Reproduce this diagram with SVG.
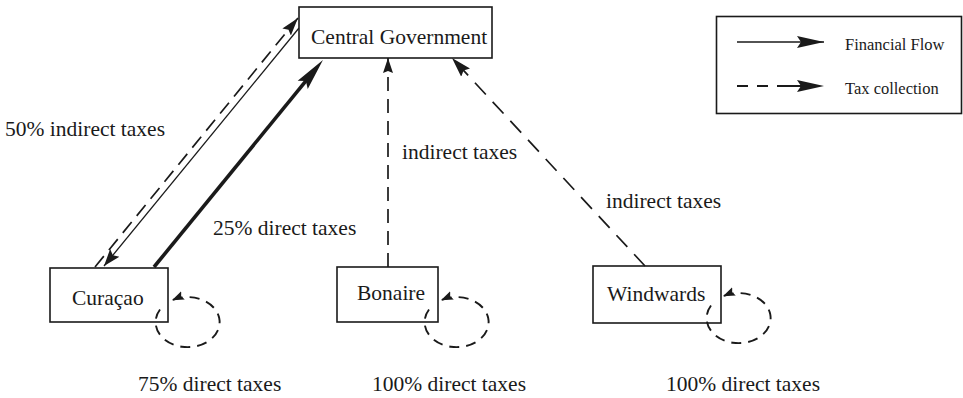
<svg xmlns="http://www.w3.org/2000/svg" width="963" height="398" viewBox="0 0 963 398">
  <style>
    .box { fill: #fff; stroke: #1a1a1a; stroke-width: 1.6; }
    .lbl { font-family: "Liberation Serif", "Times New Roman", serif; font-size: 21.5px; fill: #1a1a1a; }
    .leg { font-family: "Liberation Serif", "Times New Roman", serif; font-size: 16.5px; fill: #1a1a1a; }
    .flow { fill: none; stroke: #1a1a1a; stroke-width: 1.3; }
    .flow-thick { fill: none; stroke: #1a1a1a; stroke-width: 3.6; }
    .tax { fill: none; stroke: #1a1a1a; stroke-width: 1.7; stroke-dasharray: 14 8; }
    .loop { fill: none; stroke: #1a1a1a; stroke-width: 1.9; stroke-dasharray: 10 7; }
    .head { fill: #1a1a1a; stroke: none; }
  </style>
  <defs>
    <marker id="ahThick" viewBox="0 -10 40 20" markerWidth="40" markerHeight="20" refX="18" refY="0" orient="auto" markerUnits="userSpaceOnUse">
      <path class="head" d="M0,-6.5 L32,0 L0,6.5 L5,0 z"/>
    </marker>
    <marker id="ahThin" viewBox="0 -10 20 20" markerWidth="20" markerHeight="20" refX="17" refY="0" orient="auto" markerUnits="userSpaceOnUse">
      <path class="head" d="M0,-6 L17,0 L0,6 L3,0 z"/>
    </marker>
    <marker id="ahTax" viewBox="0 -10 22 20" markerWidth="22" markerHeight="20" refX="18" refY="0" orient="auto" markerUnits="userSpaceOnUse">
      <path class="head" d="M0,-5.5 L18,0 L0,5.5 L3,0 z"/>
    </marker>
    <marker id="ahTaxShort" viewBox="0 -10 20 20" markerWidth="20" markerHeight="20" refX="15" refY="0" orient="auto" markerUnits="userSpaceOnUse">
      <path class="head" d="M0,-5 L15,0 L0,5 L2,0 z"/>
    </marker>
    <marker id="ahTaxLong" viewBox="0 -10 24 20" markerWidth="24" markerHeight="20" refX="20" refY="0" orient="auto" markerUnits="userSpaceOnUse">
      <path class="head" d="M0,-6 L20,0 L0,6 L3,0 z"/>
    </marker>
    <marker id="ahLoop" viewBox="0 -10 14 20" markerWidth="14" markerHeight="20" refX="12" refY="0" orient="auto" markerUnits="userSpaceOnUse">
      <path class="head" d="M0,-4.5 L12,0 L0,4.5 L2,0 z"/>
    </marker>
    <marker id="ahLegend" viewBox="0 -10 30 20" markerWidth="30" markerHeight="20" refX="27" refY="0" orient="auto" markerUnits="userSpaceOnUse">
      <path class="head" d="M0,-6 L27,0 L0,6 L4,0 z"/>
    </marker>
  </defs>

  <!-- flows between the islands and the central government -->
  <g id="connectors">
    <!-- Curaçao: 50% indirect taxes collected upward -->
    <line class="tax" x1="95" y1="267" x2="298" y2="18" marker-end="url(#ahTax)"/>
    <!-- transfer back down to Curaçao -->
    <line class="flow" x1="299" y1="28" x2="104" y2="266" marker-end="url(#ahThin)"/>
    <!-- Curaçao: 25% direct taxes -->
    <line class="flow-thick" x1="154" y1="267" x2="314.1" y2="70.9" marker-end="url(#ahThick)"/>
    <!-- Bonaire: indirect taxes -->
    <line class="tax" x1="388" y1="267" x2="388" y2="58" marker-end="url(#ahTaxShort)"/>
    <!-- Windwards: indirect taxes -->
    <line class="tax" x1="645" y1="266" x2="452" y2="58" marker-end="url(#ahTaxLong)" style="stroke-dasharray: 16 10"/>
    <!-- direct taxes kept locally (self loops) -->
    <path class="loop" d="M160,309.5 A32,25 0 1 0 172,300.3" marker-end="url(#ahLoop)"/>
    <path class="loop" d="M429,309.5 A32,25 0 1 0 441,300.3" marker-end="url(#ahLoop)"/>
    <path class="loop" d="M711,305.5 A32,25 0 1 0 723,296.3" marker-end="url(#ahLoop)"/>
  </g>

  <g id="central-government">
    <rect class="box" x="299" y="7" width="193" height="51"/>
    <text class="lbl" x="311" y="44">Central Government</text>
  </g>

  <g id="curacao">
    <rect class="box" x="50" y="268" width="118" height="54" style="fill:none"/>
    <text class="lbl" x="72" y="305">Curaçao</text>
  </g>

  <g id="bonaire">
    <rect class="box" x="337" y="267" width="101" height="55" style="fill:none"/>
    <text class="lbl" x="357" y="300">Bonaire</text>
  </g>

  <g id="windwards">
    <rect class="box" x="593" y="266" width="128" height="57" style="fill:none"/>
    <text class="lbl" x="607" y="301">Windwards</text>
  </g>

  <g id="labels">
    <text class="lbl" x="5" y="136">50% indirect taxes</text>
    <text class="lbl" x="402" y="159">indirect taxes</text>
    <text class="lbl" x="213" y="235">25% direct taxes</text>
    <text class="lbl" x="606" y="208">indirect taxes</text>
    <text class="lbl" x="138" y="391">75% direct taxes</text>
    <text class="lbl" x="372" y="391">100% direct taxes</text>
    <text class="lbl" x="666" y="391">100% direct taxes</text>
  </g>

  <g id="legend">
    <rect class="box" x="716.5" y="16.5" width="245" height="97"/>
    <line class="flow" x1="737" y1="42" x2="824" y2="42" style="stroke-width:1.6" marker-end="url(#ahLegend)"/>
    <text class="leg" x="845" y="50">Financial Flow</text>
    <line class="flow" x1="737" y1="86" x2="824" y2="86" style="stroke-width:2.2; stroke-dasharray: 11 9 11 9 40" marker-end="url(#ahLegend)"/>
    <text class="leg" x="845" y="94">Tax collection</text>
  </g>
</svg>
